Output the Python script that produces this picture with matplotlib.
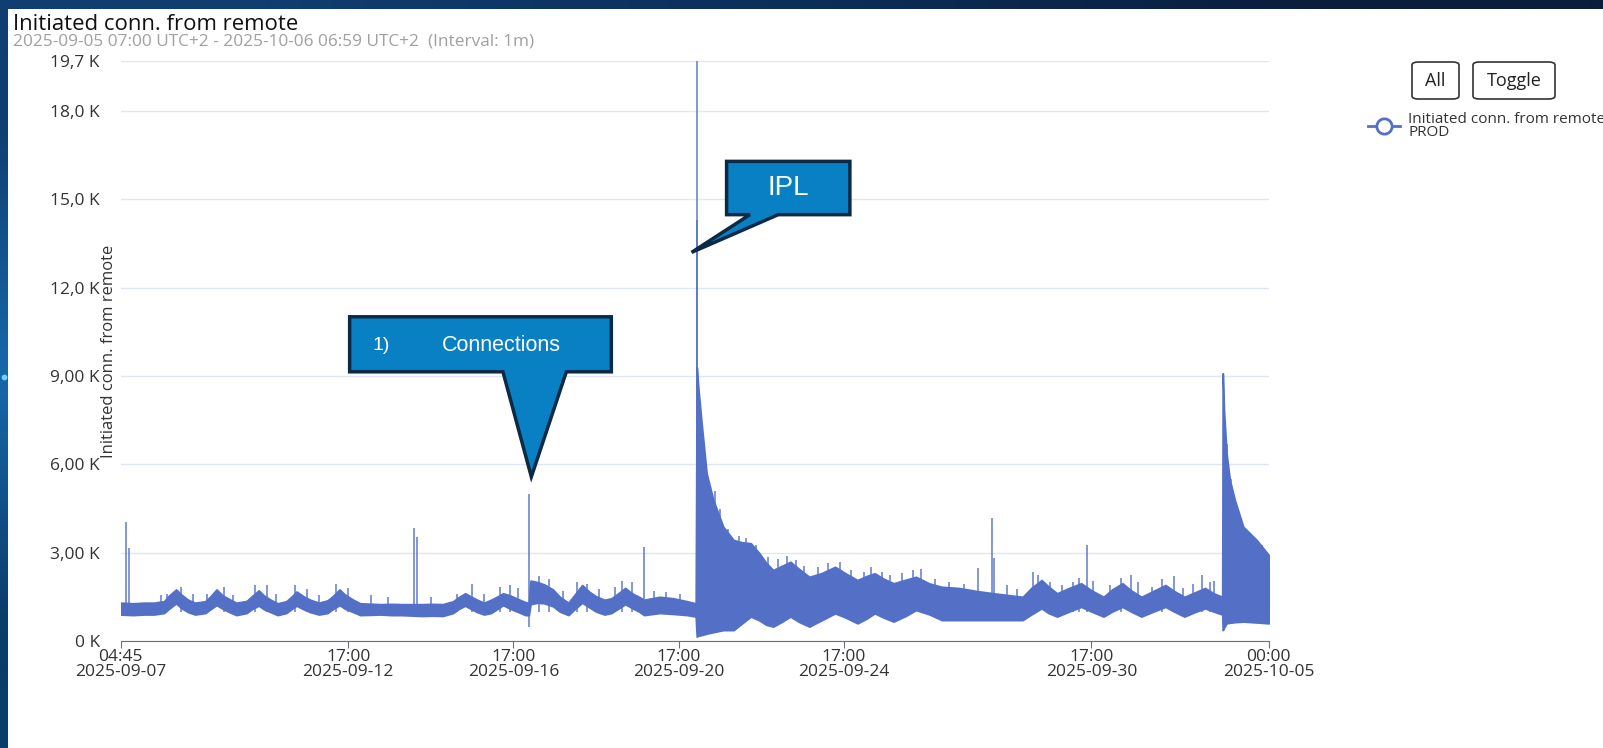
import matplotlib
matplotlib.use("Agg")
import matplotlib.pyplot as plt
import matplotlib.dates as mdates
from matplotlib.patches import Rectangle, FancyBboxPatch, Polygon
from matplotlib.lines import Line2D
import numpy as np
import pandas as pd

W, H = 1603, 748
SERIES_COLOR = "#5470c6"

# band of the 1m series: hours since 2025-09-07 00:00, lower / upper edge in K
band_hours = [4.75, 12, 18,
              24, 30, 33, 37, 40, 44,
              48, 54, 57, 60.5, 64, 68,
              72, 78, 81, 85, 88, 92,
              96, 101, 104, 107, 111, 115,
              120, 125, 128, 132, 135, 140,
              144, 156, 162, 168, 180, 186,
              192, 198, 201, 205, 208, 212,
              216, 220, 224, 227, 231, 236,
              240, 242, 243, 247, 251, 256, 260,
              265, 269, 273, 277, 281, 286,
              290, 294, 298, 302, 306, 309,
              318, 326, 334, 339,
              339.6, 340.5, 342.4, 345.3, 349.2, 355, 361, 366, 371, 376, 380, 384,
              389, 394, 399, 405, 412, 420, 426, 433, 438, 443, 448, 454, 461, 467,
              475, 482, 492, 502, 512, 529, 534, 540, 544, 549, 556, 563, 569, 576,
              581, 587, 592, 598, 605, 612, 617, 623, 629, 635, 640, 645,
              645.3, 646, 647.5, 649.4, 652.3, 657.2, 665, 672]
band_low = [0.90, 0.88, 0.90,
            0.90, 0.95, 1.10, 1.28, 1.12, 0.98,
            0.90, 0.95, 1.08, 1.22, 1.10, 0.98,
            0.88, 0.95, 1.08, 1.20, 1.08, 0.98,
            0.88, 0.95, 1.08, 1.20, 1.08, 0.98,
            0.90, 0.95, 1.08, 1.22, 1.10, 0.98,
            0.88, 0.90, 0.88, 0.88, 0.85, 0.86,
            0.85, 0.95, 1.08, 1.20, 1.10, 0.98,
            0.90, 0.95, 1.10, 1.22, 1.10, 0.98,
            0.88, 0.88, 1.25, 1.30, 1.28, 1.18, 1.00,
            0.88, 1.10, 1.30, 1.15, 1.00, 0.90,
            0.95, 1.10, 1.25, 1.12, 1.00, 0.88,
            0.95, 0.92, 0.88, 0.83,
            0.15, 0.18, 0.20, 0.25, 0.30, 0.37, 0.37, 0.60, 0.83, 0.70, 0.55, 0.49,
            0.65, 0.83, 0.65, 0.49, 0.70, 0.94, 0.80, 0.60, 0.75, 0.94, 0.80, 0.66, 0.85, 1.05,
            0.90, 0.71, 0.71, 0.71, 0.71, 0.71, 0.90, 1.11, 0.95, 0.83, 1.00, 1.16, 1.00, 0.83,
            1.00, 1.16, 1.00, 0.83, 1.00, 1.16, 1.00, 0.83, 0.98, 1.11, 1.00, 0.90,
            0.37, 0.45, 0.60, 0.62, 0.64, 0.66, 0.63, 0.60]
band_high = [1.30, 1.28, 1.30,
             1.30, 1.35, 1.55, 1.75, 1.58, 1.40,
             1.30, 1.35, 1.52, 1.75, 1.55, 1.42,
             1.30, 1.36, 1.52, 1.72, 1.55, 1.40,
             1.28, 1.35, 1.50, 1.68, 1.52, 1.40,
             1.30, 1.38, 1.52, 1.75, 1.58, 1.40,
             1.28, 1.25, 1.26, 1.25, 1.25, 1.26,
             1.25, 1.35, 1.48, 1.62, 1.52, 1.40,
             1.30, 1.40, 1.52, 1.62, 1.55, 1.42,
             1.32, 1.30, 2.05, 2.00, 1.92, 1.75, 1.50,
             1.30, 1.60, 1.90, 1.68, 1.52, 1.40,
             1.45, 1.62, 1.80, 1.62, 1.50, 1.40,
             1.50, 1.45, 1.35, 1.28,
             9.30, 8.60, 7.40, 5.70, 4.79, 3.88, 3.43, 3.35, 3.32, 2.98, 2.65, 2.41,
             2.55, 2.69, 2.45, 2.18, 2.30, 2.52, 2.30, 2.07, 2.20, 2.30, 2.12, 1.96, 2.08, 2.18,
             1.95, 1.84, 1.80, 1.70, 1.62, 1.50, 1.80, 2.07, 1.85, 1.62, 1.80, 1.96, 1.72, 1.50,
             1.75, 1.96, 1.72, 1.50, 1.70, 1.90, 1.70, 1.50, 1.65, 1.80, 1.62, 1.50,
             9.09, 7.84, 6.37, 5.47, 4.79, 3.88, 3.43, 2.92]

# single-minute peaks sticking out of the band
spike_hours = [7.9, 9.6, 28, 32, 40, 47, 55, 65, 70, 83, 90, 95, 106, 113, 120, 130,
               137, 150, 160, 175.4, 177.2, 185, 200, 209, 216, 225, 231, 236, 242.3,
               248, 254, 262, 270, 276, 283, 292, 296, 302, 308.7, 315, 322, 330,
               339.5, 339.8, 350, 353, 358, 364, 368, 374, 381, 387, 392, 397, 402,
               410, 416, 423, 429, 437, 441, 447, 452, 459, 465, 470, 478, 486, 495,
               503.2, 511.2, 512.3, 520, 526, 535, 538, 545, 552, 558, 562, 566.3,
               570, 580, 586, 592, 596, 604, 610, 617, 622, 628, 633, 638, 640,
               648, 650, 654, 660, 668]
spike_values = [4.05, 3.16, 1.55, 1.60, 1.85, 1.60, 1.60, 1.85, 1.55, 1.90, 1.90, 1.60,
                1.90, 1.75, 1.55, 1.95, 1.80, 1.55, 1.50, 3.85, 3.53, 1.50, 1.60, 1.95,
                1.60, 1.85, 1.90, 1.80, 5.00, 2.20, 2.10, 1.70, 2.00, 1.95, 1.75, 1.85,
                2.05, 2.00, 3.18, 1.70, 1.65, 1.60, 19.7, 14.3, 5.10, 4.50, 3.80, 3.55,
                3.50, 3.25, 2.85, 2.80, 2.90, 2.75, 2.55, 2.50, 2.65, 2.70, 2.40, 2.35,
                2.50, 2.35, 2.25, 2.30, 2.40, 2.45, 2.10, 2.00, 1.95, 2.49, 4.17, 2.81,
                1.90, 1.75, 2.35, 2.25, 2.00, 1.90, 2.00, 2.15, 3.26, 2.05, 1.90, 2.15,
                2.25, 2.00, 1.85, 2.10, 2.20, 1.80, 1.95, 2.25, 2.00, 2.05, 6.70, 5.50,
                4.50, 3.70, 3.25]
dip_hours = [242.3]
dip_values = [0.48]

y_ticks = [0, 3, 6, 9, 12, 15, 18, 19.7]
y_tick_labels = ["0 K", "3,00 K", "6,00 K", "9,00 K", "12,0 K", "15,0 K", "18,0 K", "19,7 K"]
x_ticks = ["2025-09-07 04:45", "2025-09-12 17:00", "2025-09-16 17:00", "2025-09-20 17:00",
           "2025-09-24 17:00", "2025-09-30 17:00", "2025-10-05 00:00"]

T0 = pd.Timestamp("2025-09-07")


def to_time(hours):
    return (T0 + pd.to_timedelta(hours, unit="h")).values


def fpos(x, y):
    """pixel from top-left -> figure fraction"""
    return (x / W, 1 - y / H)


fig = plt.figure(figsize=(W / 100, H / 100), dpi=100)

# slide background + white chart panel
bg = fig.add_axes([0, 0, 1, 1], zorder=-10)
grad = np.array([[[15, 62, 112], [12, 46, 90], [10, 29, 59]],
                 [[22, 104, 170], [18, 80, 140], [12, 40, 80]],
                 [[11, 60, 106], [12, 50, 92], [10, 35, 70]]]) / 255
bg.imshow(grad, aspect="auto", interpolation="bilinear", extent=[0, 1, 0, 1])
bg.set_xlim(0, 1)
bg.set_ylim(0, 1)
bg.axis("off")
fig.patches.append(Rectangle(fpos(8, H), 1, (H - 9) / H, transform=fig.transFigure,
                             facecolor="white", edgecolor="none", zorder=-5))
bg.scatter([4 / W], [1 - 377 / H], s=10, color="#6fd0ff", zorder=3)

ax = fig.add_axes([120.6 / W, 1 - 641 / H, (1268.7 - 120.6) / W, (641 - 61) / H])
ax.set_facecolor("none")

t_band = to_time(band_hours)
ax.fill_between(t_band, band_low, band_high, color=SERIES_COLOR, lw=1.3,
                edgecolor=SERIES_COLOR, zorder=3)
ax.vlines(to_time(spike_hours), 1.0, spike_values, color=SERIES_COLOR, lw=1.2,
          alpha=0.85, zorder=3)
ax.vlines(to_time(dip_hours), dip_values, 1.0, color=SERIES_COLOR, lw=1.2,
          alpha=0.85, zorder=3)

ax.set_ylim(0, 19.7)
ax.set_yticks(y_ticks)
ax.set_yticklabels(y_tick_labels)
ax.grid(axis="y", color="#e0e6f1", lw=1)
ax.set_axisbelow(True)

xt = pd.to_datetime(x_ticks)
ax.set_xlim(xt[0], xt[-1])
ax.set_xticks(xt)
ax.xaxis.set_major_formatter(mdates.DateFormatter("%H:%M\n%Y-%m-%d"))

for side in ["top", "right", "left"]:
    ax.spines[side].set_visible(False)
ax.spines["bottom"].set_color("#6e7079")
ax.tick_params(axis="y", length=0, pad=15, labelsize=12.5, labelcolor="#333333")
ax.tick_params(axis="x", length=5, color="#6e7079", pad=1, labelsize=12.5,
               labelcolor="#333333")
for lab in ax.get_xticklabels() + ax.get_yticklabels():
    lab.set_fontfamily("Open Sans")
    lab.set_linespacing(0.9)

fig.text(*fpos(109, 351), "Initiated conn. from remote", rotation=90, ha="center",
         va="center", fontsize=12, color="#333333", family="Open Sans")

# title block
fig.text(*fpos(13, 30), "Initiated conn. from remote", fontsize=15.9, color="#111111",
         family="Open Sans", va="baseline")
fig.text(*fpos(13, 46), "2025-09-05 07:00 UTC+2 - 2025-10-06 06:59 UTC+2  (Interval: 1m)",
         fontsize=12.4, color="#a0a0a0", family="Open Sans", va="baseline")

# legend buttons + entry
for x0, x1, label in [(1412, 1459, "All"), (1473, 1555, "Toggle")]:
    fig.patches.append(FancyBboxPatch(fpos(x0, 99), (x1 - x0) / W, 37 / H,
                                      boxstyle="round,pad=0,rounding_size=0.004",
                                      transform=fig.transFigure, facecolor="white",
                                      edgecolor="#333333", lw=1.2))
    fig.text(*fpos((x0 + x1) / 2, 81), label, ha="center", va="center", fontsize=13,
             color="#222222", family="Open Sans")
fig.lines.append(Line2D([1368 / W, 1400 / W], [1 - 126 / H] * 2, transform=fig.transFigure,
                        color=SERIES_COLOR, lw=2))
fig.lines.append(Line2D([1384 / W], [1 - 126 / H], transform=fig.transFigure,
                        marker="o", ms=11, mfc="white", mec=SERIES_COLOR, mew=2))
fig.text(*fpos(1408, 112), "Initiated conn. from remote\nPROD", fontsize=11,
         color="#333333", family="Open Sans", va="top", linespacing=0.8)


def tip_px(hours, value, dx=0, dy=0):
    x, y = ax.transData.transform((mdates.date2num(to_time([hours])[0]), value))
    return x + dx, H - y + dy


def callout(tip, box, base):
    tx, ty = tip
    l, r, t, b = box
    pl, pr = base
    pts = [(l, t), (r, t), (r, b), (pr, b), (tx, ty), (pl, b), (l, b)]
    fig.patches.append(Polygon([fpos(*p) for p in pts], closed=True,
                               transform=fig.transFigure, facecolor="#0a80c4",
                               edgecolor="#0d2a45", lw=2.5, joinstyle="miter"))


# "1) Connections" points at the spike of 2025-09-17
tx, ty = tip_px(242.3, 5.0, dx=2, dy=-17)
callout((tx, ty), (tx - 181.7, tx + 80, ty - 160, ty - 105), (tx - 28.4, tx + 35))
fig.text(*fpos(tx - 150, ty - 131.7), "1)", color="white", fontsize=14,
         family="Liberation Sans", ha="center", va="center")
fig.text(*fpos(tx - 30, ty - 131.7), "Connections", color="white", fontsize=15.5,
         family="Liberation Sans", ha="center", va="center")

# "IPL" points at the big peak
tx, ty = tip_px(339.5, 13.2, dx=-5)
callout((tx, ty), (tx + 35, tx + 158.3, ty - 91, ty - 37.7), (tx + 58.3, tx + 86.6))
fig.text(*fpos(tx + 96.6, ty - 64.5), "IPL", color="white", fontsize=20,
         family="Liberation Sans", ha="center", va="center")

fig.savefig("out.png", dpi=100)
